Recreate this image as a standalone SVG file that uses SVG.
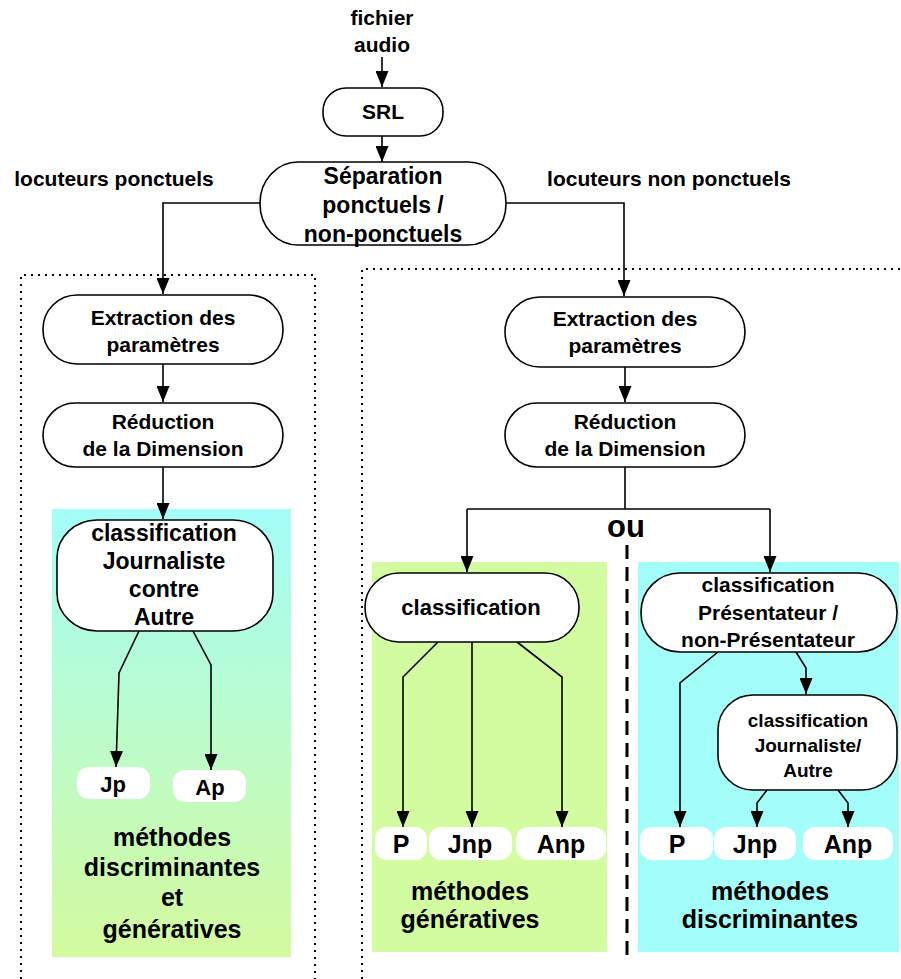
<svg xmlns="http://www.w3.org/2000/svg" width="901" height="979" viewBox="0 0 901 979">
<defs>
<marker id="ah" markerUnits="userSpaceOnUse" markerWidth="16" markerHeight="13" refX="16" refY="6.5" orient="auto">
<path d="M0,0 L16,6.5 L0,13 z" fill="#000"/>
</marker>
<linearGradient id="gl" x1="0" y1="0" x2="0" y2="1">
<stop offset="0" stop-color="#a3fdf8"/>
<stop offset="1" stop-color="#d4fa9e"/>
</linearGradient>
<style>
text{font-family:"Liberation Sans",Arial,sans-serif;font-weight:bold;fill:#000;text-anchor:middle}
.node{fill:#fff;stroke:#000;stroke-width:1.6}
.pill{fill:#fff;stroke:none}
.c{fill:none;stroke:#000;stroke-width:1.6}
.ca{fill:none;stroke:#000;stroke-width:1.6;marker-end:url(#ah)}
.dot{fill:none;stroke:#000;stroke-width:2;stroke-dasharray:2 5}
</style>
</defs>
<rect width="901" height="979" fill="#fff"/>

<g id="panels">
<rect x="52" y="509" width="239" height="448" fill="url(#gl)"/>
<rect x="372" y="562" width="235" height="390" fill="#d3fba0"/>
<rect x="638" y="562" width="261" height="390" fill="#a3fdf8"/>
<path class="dot" d="M21,979 V275 H315 V979"/>
<path class="dot" d="M362,979 V269 H901"/>
<line x1="627" y1="545" x2="627" y2="962" stroke="#000" stroke-width="3" stroke-dasharray="14 8"/>
</g>

<g id="labels">
<text x="382" y="25" font-size="21">fichier</text>
<text x="382" y="52" font-size="21">audio</text>
<text x="114" y="186" font-size="21">locuteurs ponctuels</text>
<text x="669" y="186" font-size="21">locuteurs non ponctuels</text>
<text x="626" y="537" font-size="31">ou</text>
<text x="172" y="846" font-size="25">méthodes</text>
<text x="172" y="876" font-size="25">discriminantes</text>
<text x="172" y="906" font-size="25">et</text>
<text x="172" y="938" font-size="25">génératives</text>
<text x="470" y="900" font-size="25">méthodes</text>
<text x="470" y="928" font-size="25">génératives</text>
<text x="770" y="900" font-size="25">méthodes</text>
<text x="770" y="928" font-size="25">discriminantes</text>
</g>

<g id="connectors">
<path class="ca" d="M382,57 V87"/>
<path class="ca" d="M382,136 V162"/>
<path class="ca" d="M260,203 H163 V294"/>
<path class="ca" d="M506,203 H624 V296"/>
<path class="ca" d="M163,364 V402"/>
<path class="ca" d="M163,467 V519"/>
<path class="ca" d="M625,367 V402"/>
<path class="c" d="M625,467 V509"/>
<path class="c" d="M467,509 H770"/>
<path class="ca" d="M467,509 V572"/>
<path class="ca" d="M770,509 V572"/>
<path class="ca" d="M139,631 L119,673 L116,767"/>
<path class="ca" d="M193,631 L211,665 V770"/>
<path class="ca" d="M438,642 L403,677 V827"/>
<path class="ca" d="M472,642 V827"/>
<path class="ca" d="M517,642 L562,677 V827"/>
<path class="ca" d="M718,652 L680,683 V827"/>
<path class="ca" d="M796,652 L806,668 V694"/>
<path class="ca" d="M767,790 L757,803 V827"/>
<path class="ca" d="M838,790 L848,803 V827"/>
</g>

<g id="srl">
<rect class="node" x="323" y="88" width="120" height="48" rx="23" ry="23"/>
<text x="383" y="119" font-size="21">SRL</text>
</g>

<g id="separation">
<rect class="node" x="260" y="162" width="246" height="83" rx="38" ry="41"/>
<text x="383" y="184" font-size="23">Séparation</text>
<text x="383" y="213" font-size="23">ponctuels /</text>
<text x="383" y="242" font-size="23">non-ponctuels</text>
</g>

<g id="extraction-left">
<rect class="node" x="43" y="295" width="240" height="69" rx="34" ry="34"/>
<text x="163" y="325" font-size="21">Extraction des</text>
<text x="163" y="352" font-size="21">paramètres</text>
</g>

<g id="reduction-left">
<rect class="node" x="43" y="403" width="240" height="64" rx="32" ry="32"/>
<text x="163" y="429" font-size="21">Réduction</text>
<text x="163" y="456" font-size="21">de la Dimension</text>
</g>

<g id="classif-journaliste-contre-autre">
<rect class="node" x="57" y="520" width="216" height="111" rx="40" ry="38"/>
<text x="164" y="541" font-size="23">classification</text>
<text x="164" y="569" font-size="23">Journaliste</text>
<text x="164" y="597" font-size="23">contre</text>
<text x="164" y="625" font-size="23">Autre</text>
</g>

<g id="jp">
<rect class="pill" x="77" y="767" width="73" height="32" rx="12"/>
<text x="113" y="792" font-size="22">Jp</text>
</g>
<g id="ap">
<rect class="pill" x="173" y="770" width="73" height="32" rx="12"/>
<text x="210" y="795" font-size="22">Ap</text>
</g>

<g id="extraction-right">
<rect class="node" x="505" y="297" width="240" height="70" rx="35" ry="35"/>
<text x="625" y="326" font-size="21">Extraction des</text>
<text x="625" y="353" font-size="21">paramètres</text>
</g>

<g id="reduction-right">
<rect class="node" x="505" y="403" width="240" height="64" rx="32" ry="32"/>
<text x="625" y="429" font-size="21">Réduction</text>
<text x="625" y="456" font-size="21">de la Dimension</text>
</g>

<g id="classif-gen">
<rect class="node" x="365" y="573" width="214" height="69" rx="34" ry="34"/>
<text x="471" y="615" font-size="22">classification</text>
</g>

<g id="p-gen">
<rect class="pill" x="375" y="827" width="52" height="33" rx="12"/>
<text x="401" y="853" font-size="25">P</text>
</g>
<g id="jnp-gen">
<rect class="pill" x="429" y="827" width="83" height="33" rx="12"/>
<text x="470" y="853" font-size="25">Jnp</text>
</g>
<g id="anp-gen">
<rect class="pill" x="516" y="827" width="90" height="33" rx="12"/>
<text x="561" y="853" font-size="25">Anp</text>
</g>

<g id="classif-presentateur">
<rect class="node" x="641" y="573" width="256" height="79" rx="39" ry="39"/>
<text x="768" y="592" font-size="21">classification</text>
<text x="768" y="620" font-size="21">Présentateur /</text>
<text x="768" y="647" font-size="21">non-Présentateur</text>
</g>

<g id="classif-journaliste-autre">
<rect class="node" x="718" y="695" width="179" height="95" rx="35" ry="35"/>
<text x="808" y="727" font-size="19">classification</text>
<text x="808" y="752" font-size="19">Journaliste/</text>
<text x="808" y="777" font-size="19">Autre</text>
</g>

<g id="p-disc">
<rect class="pill" x="640" y="827" width="73" height="33" rx="12"/>
<text x="677" y="853" font-size="25">P</text>
</g>
<g id="jnp-disc">
<rect class="pill" x="714" y="827" width="82" height="33" rx="12"/>
<text x="755" y="853" font-size="25">Jnp</text>
</g>
<g id="anp-disc">
<rect class="pill" x="803" y="827" width="90" height="33" rx="12"/>
<text x="848" y="853" font-size="25">Anp</text>
</g>
</svg>
